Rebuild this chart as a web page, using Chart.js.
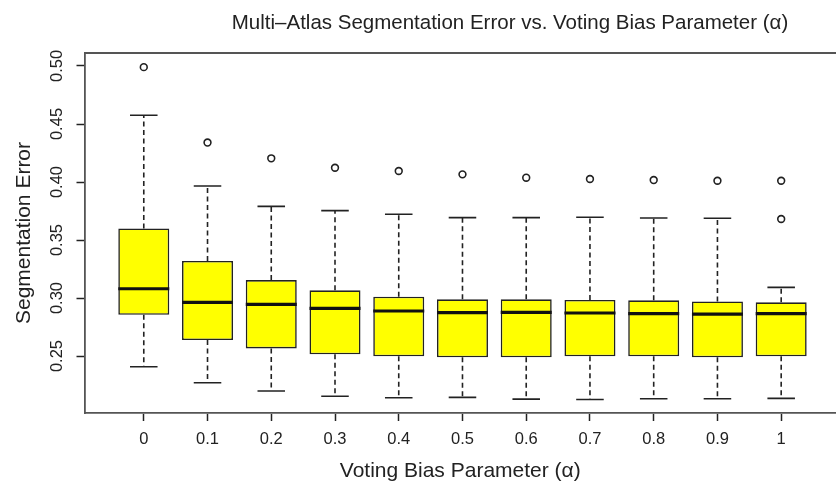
<!DOCTYPE html>
<html>
<head>
<meta charset="utf-8">
<script src="https://cdn.jsdelivr.net/npm/chart.js@4.4.1/dist/chart.umd.min.js"></script>
<style>
  html, body { margin: 0; padding: 0; background: #fff; overflow: hidden; }
  #wrap { width: 836px; height: 489px; }
</style>
</head>
<body>
<div id="wrap"><canvas id="chart" width="836" height="489"></canvas></div>
<script>
// voting bias parameter (alpha) categories
const alphas = ['0', '0.1', '0.2', '0.3', '0.4', '0.5', '0.6', '0.7', '0.8', '0.9', '1'];

// box plot statistics
const lowerWhisker = [0.2408, 0.2270, 0.2198, 0.2153, 0.2140, 0.2144, 0.2129, 0.2126, 0.2132, 0.2132, 0.2135];
const q1 = [0.2856, 0.2638, 0.2566, 0.2515, 0.2498, 0.2489, 0.2489, 0.2498, 0.2498, 0.2489, 0.2498];
const median = [0.3080, 0.2963, 0.2946, 0.2911, 0.2888, 0.2874, 0.2877, 0.2871, 0.2865, 0.2862, 0.2865];
const q3 = [0.3600, 0.3320, 0.3155, 0.3066, 0.3012, 0.2989, 0.2989, 0.2983, 0.2980, 0.2971, 0.2963];
const upperWhisker = [0.4575, 0.3966, 0.3790, 0.3753, 0.3722, 0.3693, 0.3693, 0.3696, 0.3690, 0.3687, 0.3092];
const outliers = [[0.499], [0.434], [0.4204], [0.4123], [0.4095], [0.4066], [0.4037], [0.4026], [0.4017], [0.4011], [0.4011, 0.3681]];

const yTicks = [0.25, 0.30, 0.35, 0.40, 0.45, 0.50];

const FONT = "'Liberation Sans', Arial, Helvetica, sans-serif";
const INK = '#222';

const boxData = alphas.map((a, i) => ({ x: i, y: [q1[i], q3[i]] }));
const outlierData = [];
outliers.forEach((vals, i) => vals.forEach((v) => outlierData.push({ x: i, y: v })));

// whiskers, caps and medians drawn through the chart scales
const boxExtras = {
    id: 'boxExtras',
    beforeDatasetsDraw(chart) {
        const { ctx, scales: { x, y } } = chart;
        const bars = chart.getDatasetMeta(0).data;
        ctx.save();
        ctx.strokeStyle = INK;
        ctx.lineWidth = 1.6;
        bars.forEach((bar, i) => {
            const px = x.getPixelForValue(i);
            const cap = bar.width * 0.27;
            ctx.setLineDash([5, 3.5]);
            ctx.beginPath();
            ctx.moveTo(px, y.getPixelForValue(q3[i]));
            ctx.lineTo(px, y.getPixelForValue(upperWhisker[i]));
            ctx.moveTo(px, y.getPixelForValue(q1[i]));
            ctx.lineTo(px, y.getPixelForValue(lowerWhisker[i]));
            ctx.stroke();
            ctx.setLineDash([]);
            ctx.beginPath();
            ctx.moveTo(px - cap, y.getPixelForValue(upperWhisker[i]));
            ctx.lineTo(px + cap, y.getPixelForValue(upperWhisker[i]));
            ctx.moveTo(px - cap, y.getPixelForValue(lowerWhisker[i]));
            ctx.lineTo(px + cap, y.getPixelForValue(lowerWhisker[i]));
            ctx.stroke();
        });
        ctx.restore();
    },
    afterDatasetsDraw(chart) {
        const { ctx, chartArea, scales: { x, y } } = chart;
        const bars = chart.getDatasetMeta(0).data;
        ctx.save();
        ctx.strokeStyle = '#111';
        ctx.lineWidth = 3.2;
        bars.forEach((bar, i) => {
            const px = x.getPixelForValue(i);
            const py = y.getPixelForValue(median[i]);
            ctx.beginPath();
            ctx.moveTo(px - bar.width / 2, py);
            ctx.lineTo(px + bar.width / 2, py);
            ctx.stroke();
        });
        // top edge of the plot frame
        ctx.strokeStyle = '#555';
        ctx.lineWidth = 1.8;
        ctx.beginPath();
        ctx.moveTo(chartArea.left, chartArea.top);
        ctx.lineTo(chartArea.right, chartArea.top);
        ctx.stroke();
        ctx.restore();
    },
    afterDraw(chart) {
        const { ctx } = chart;
        ctx.save();
        ctx.fillStyle = INK;
        ctx.font = '20.5px ' + FONT;
        ctx.textAlign = 'center';
        ctx.textBaseline = 'alphabetic';
        ctx.fillText('Multi\u2013Atlas Segmentation Error vs. Voting Bias Parameter (\u03b1)', 510, 29);
        ctx.restore();
    }
};

new Chart(document.getElementById('chart'), {
    type: 'bar',
    data: {
        datasets: [{
            type: 'bar',
            data: boxData,
            backgroundColor: '#ffff00',
            borderColor: INK,
            borderWidth: 1.6,
            borderSkipped: false,
            barPercentage: 0.8,
            categoryPercentage: 1,
            order: 2,
        }, {
            type: 'scatter',
            data: outlierData,
            pointStyle: 'circle',
            pointRadius: 3.4,
            pointBorderWidth: 1.6,
            pointBorderColor: INK,
            pointBackgroundColor: 'rgba(0,0,0,0)',
            order: 1,
        }],
    },
    options: {
        responsive: false,
        animation: false,
        layout: { autoPadding: false, padding: { top: 53, left: 0, right: 0, bottom: 0 } },
        plugins: {
            legend: { display: false },
            tooltip: { enabled: false },
            title: { display: false },
        },
        scales: {
            x: {
                type: 'linear',
                offset: false,
                min: -0.93,
                max: 10.86,
                afterBuildTicks: (scale) => { scale.ticks = alphas.map((a, i) => ({ value: i })); },
                afterFit: (scale) => {
                    scale.height = 76;
                    scale.paddingLeft = 0;
                    scale.paddingRight = 0;
                },
                ticks: {
                    callback: (v) => alphas[v],
                    color: INK,
                    font: { family: FONT, size: 16.5 },
                    padding: 8.6,
                    maxRotation: 0,
                    autoSkip: false,
                },
                grid: { offset: false, drawOnChartArea: false, tickLength: 8, tickColor: INK, tickWidth: 1.5 },
                border: { display: true, color: '#555', width: 1.8 },
                title: {
                    display: true,
                    text: 'Voting Bias Parameter (\u03b1)',
                    color: INK,
                    font: { family: FONT, size: 21 },
                    padding: { top: 0, bottom: 5.5 },
                },
            },
            y: {
                min: 0.2009,
                max: 0.5112,
                afterBuildTicks: (scale) => { scale.ticks = yTicks.map((v) => ({ value: v })); },
                afterFit: (scale) => { scale.width = 84.5; },
                ticks: {
                    callback: (v) => v.toFixed(2),
                    color: INK,
                    font: { family: FONT, size: 16.5 },
                    minRotation: 90,
                    maxRotation: 90,
                    crossAlign: 'center',
                    padding: 3,
                },
                grid: { drawOnChartArea: false, tickLength: 8, tickColor: INK, tickWidth: 1.5 },
                border: { display: true, color: '#555', width: 1.8 },
                title: {
                    display: true,
                    text: 'Segmentation Error',
                    color: INK,
                    font: { family: FONT, size: 21 },
                    padding: { top: 12, bottom: 0 },
                },
            },
        },
    },
    plugins: [boxExtras],
});
</script>
</body>
</html>
